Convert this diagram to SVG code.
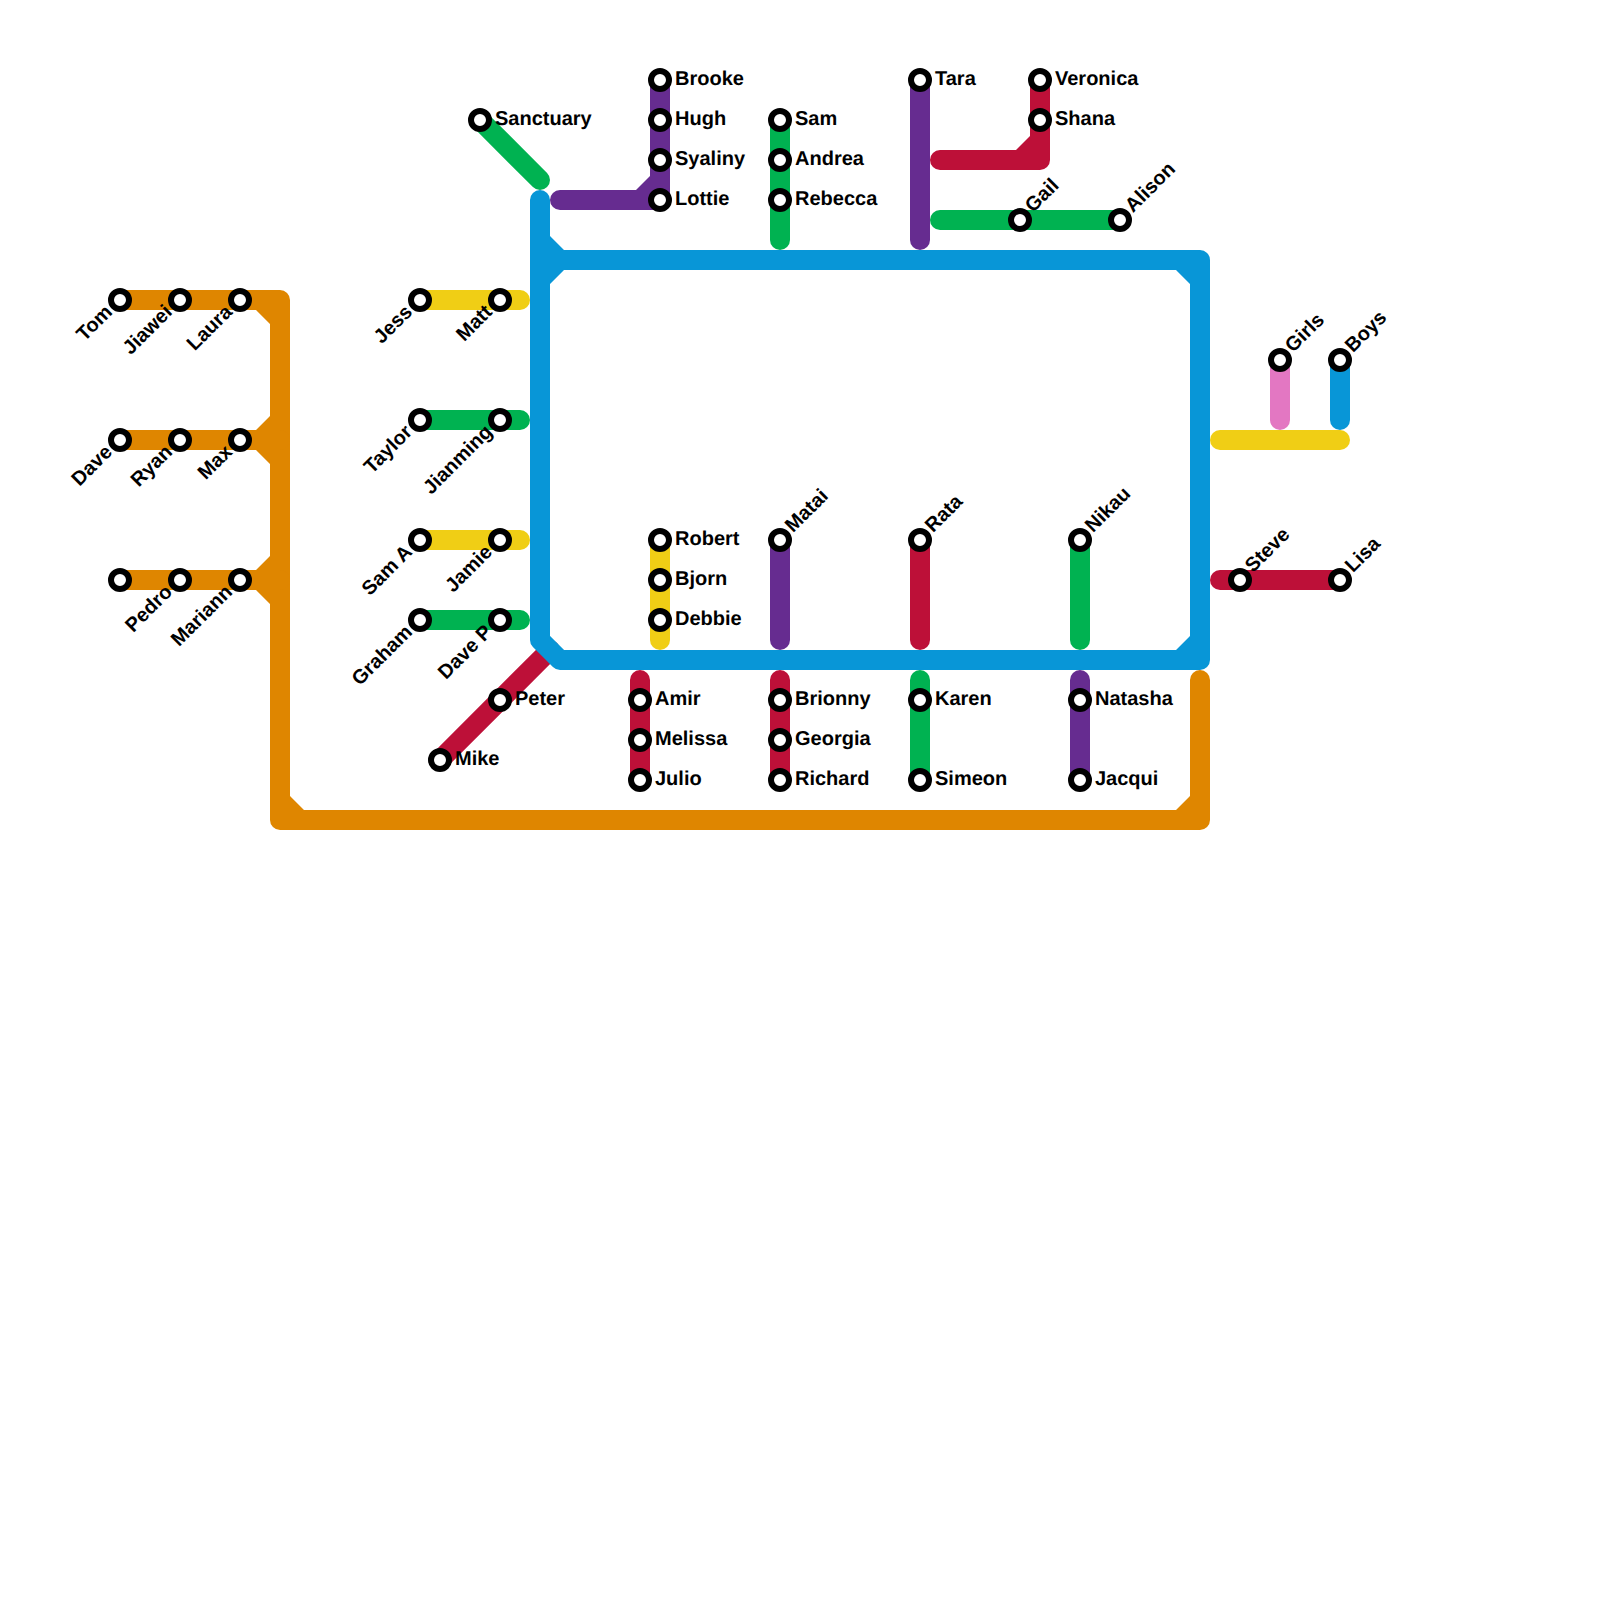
<svg xmlns="http://www.w3.org/2000/svg" width="1600" height="1600" viewBox="0 0 1600 1600">
<style>
.l{fill:none;stroke-width:20;stroke-linecap:round;stroke-linejoin:round}
.o{stroke:#df8600}.b{stroke:#0896d7}.g{stroke:#00b251}.y{stroke:#f0ce15}.p{stroke:#662c90}.r{stroke:#bd1038}.k{stroke:#e377c2}
.fo{fill:#df8600}.fb{fill:#0896d7}.fp{fill:#662c90}.fr{fill:#bd1038}
.s{fill:#fff;stroke:#000;stroke-width:6}
text{font-family:"Liberation Sans",Arial,sans-serif;font-weight:700;font-size:20px;fill:#000;text-rendering:geometricPrecision}
.e{text-anchor:end}
</style>
<g id="connectors">
<path class="l r" d="M440 760L550 650"/>
<path class="l o" d="M120 300H280V820H1200V680"/>
<path class="l o" d="M120 440H280M120 580H280"/>
<path class="fo" d="M256 310H270V324ZM256 430H270V416ZM256 450H270V464ZM256 570H270V556ZM256 590H270V604ZM290 796V810H304ZM1190 796V810H1176Z"/>
<path class="l b" d="M540 200V640L560 660H1200V260H540"/>
<path class="fb" d="M550 236L564 250H550ZM550 284L564 270H550ZM1176 270H1190V284ZM1190 636V650H1176Z"/>
<path class="l g" d="M480 120L540 180"/>
<path class="l p" d="M560 200H660V80"/>
<path class="fp" d="M636 190H650V176Z"/>
<path class="l g" d="M780 120V240"/>
<path class="l p" d="M920 80V240"/>
<path class="l r" d="M940 160H1040V80"/>
<path class="fr" d="M1016 150H1030V136Z"/>
<path class="l g" d="M940 220H1120"/>
<path class="l y" d="M420 300H520M420 540H520"/>
<path class="l g" d="M420 420H520M420 620H520"/>
<path class="l y" d="M660 540V640"/>
<path class="l p" d="M780 540V640"/>
<path class="l r" d="M920 540V640"/>
<path class="l g" d="M1080 540V640"/>
<path class="l r" d="M640 680V780M780 680V780"/>
<path class="l g" d="M920 680V780"/>
<path class="l p" d="M1080 680V780"/>
<path class="l r" d="M1220 580H1340"/>
<path class="l y" d="M1220 440H1340"/>
<path class="l k" d="M1280 360V420"/>
<path class="l b" d="M1340 360V420"/>
</g>
<g id="tom"><circle class="s" cx="120" cy="300" r="9"/><text class="e" transform="translate(120 300) rotate(-45)" x="-14" y="4.5">Tom</text></g>
<g id="jiawei"><circle class="s" cx="180" cy="300" r="9"/><text class="e" transform="translate(180 300) rotate(-45)" x="-14" y="4.5">Jiawei</text></g>
<g id="laura"><circle class="s" cx="240" cy="300" r="9"/><text class="e" transform="translate(240 300) rotate(-45)" x="-14" y="4.5">Laura</text></g>
<g id="dave"><circle class="s" cx="120" cy="440" r="9"/><text class="e" transform="translate(120 440) rotate(-45)" x="-14" y="4.5">Dave</text></g>
<g id="ryan"><circle class="s" cx="180" cy="440" r="9"/><text class="e" transform="translate(180 440) rotate(-45)" x="-14" y="4.5">Ryan</text></g>
<g id="max"><circle class="s" cx="240" cy="440" r="9"/><text class="e" transform="translate(240 440) rotate(-45)" x="-14" y="4.5">Max</text></g>
<g id="blank"><circle class="s" cx="120" cy="580" r="9"/></g>
<g id="pedro"><circle class="s" cx="180" cy="580" r="9"/><text class="e" transform="translate(180 580) rotate(-45)" x="-14" y="4.5">Pedro</text></g>
<g id="mariann"><circle class="s" cx="240" cy="580" r="9"/><text class="e" transform="translate(240 580) rotate(-45)" x="-14" y="4.5">Mariann</text></g>
<g id="jess"><circle class="s" cx="420" cy="300" r="9"/><text class="e" transform="translate(420 300) rotate(-45)" x="-14" y="4.5">Jess</text></g>
<g id="matt"><circle class="s" cx="500" cy="300" r="9"/><text class="e" transform="translate(500 300) rotate(-45)" x="-14" y="4.5">Matt</text></g>
<g id="taylor"><circle class="s" cx="420" cy="420" r="9"/><text class="e" transform="translate(420 420) rotate(-45)" x="-14" y="4.5">Taylor</text></g>
<g id="jianming"><circle class="s" cx="500" cy="420" r="9"/><text class="e" transform="translate(500 420) rotate(-45)" x="-14" y="4.5">Jianming</text></g>
<g id="sama"><circle class="s" cx="420" cy="540" r="9"/><text class="e" transform="translate(420 540) rotate(-45)" x="-14" y="4.5">Sam A</text></g>
<g id="jamie"><circle class="s" cx="500" cy="540" r="9"/><text class="e" transform="translate(500 540) rotate(-45)" x="-14" y="4.5">Jamie</text></g>
<g id="graham"><circle class="s" cx="420" cy="620" r="9"/><text class="e" transform="translate(420 620) rotate(-45)" x="-14" y="4.5">Graham</text></g>
<g id="davep"><circle class="s" cx="500" cy="620" r="9"/><text class="e" transform="translate(500 620) rotate(-45)" x="-14" y="4.5">Dave P</text></g>
<g id="sanctuary"><circle class="s" cx="480" cy="120" r="9"/><text x="495" y="125">Sanctuary</text></g>
<g id="brooke"><circle class="s" cx="660" cy="80" r="9"/><text x="675" y="85">Brooke</text></g>
<g id="hugh"><circle class="s" cx="660" cy="120" r="9"/><text x="675" y="125">Hugh</text></g>
<g id="syaliny"><circle class="s" cx="660" cy="160" r="9"/><text x="675" y="165">Syaliny</text></g>
<g id="lottie"><circle class="s" cx="660" cy="200" r="9"/><text x="675" y="205">Lottie</text></g>
<g id="sam"><circle class="s" cx="780" cy="120" r="9"/><text x="795" y="125">Sam</text></g>
<g id="andrea"><circle class="s" cx="780" cy="160" r="9"/><text x="795" y="165">Andrea</text></g>
<g id="rebecca"><circle class="s" cx="780" cy="200" r="9"/><text x="795" y="205">Rebecca</text></g>
<g id="tara"><circle class="s" cx="920" cy="80" r="9"/><text x="935" y="85">Tara</text></g>
<g id="veronica"><circle class="s" cx="1040" cy="80" r="9"/><text x="1055" y="85">Veronica</text></g>
<g id="shana"><circle class="s" cx="1040" cy="120" r="9"/><text x="1055" y="125">Shana</text></g>
<g id="gail"><circle class="s" cx="1020" cy="220" r="9"/><text transform="translate(1020 220) rotate(-45)" x="14" y="4.5">Gail</text></g>
<g id="alison"><circle class="s" cx="1120" cy="220" r="9"/><text transform="translate(1120 220) rotate(-45)" x="14" y="4.5">Alison</text></g>
<g id="girls"><circle class="s" cx="1280" cy="360" r="9"/><text transform="translate(1280 360) rotate(-45)" x="14" y="4.5">Girls</text></g>
<g id="boys"><circle class="s" cx="1340" cy="360" r="9"/><text transform="translate(1340 360) rotate(-45)" x="14" y="4.5">Boys</text></g>
<g id="robert"><circle class="s" cx="660" cy="540" r="9"/><text x="675" y="545">Robert</text></g>
<g id="bjorn"><circle class="s" cx="660" cy="580" r="9"/><text x="675" y="585">Bjorn</text></g>
<g id="debbie"><circle class="s" cx="660" cy="620" r="9"/><text x="675" y="625">Debbie</text></g>
<g id="matai"><circle class="s" cx="780" cy="540" r="9"/><text transform="translate(780 540) rotate(-45)" x="14" y="4.5">Matai</text></g>
<g id="rata"><circle class="s" cx="920" cy="540" r="9"/><text transform="translate(920 540) rotate(-45)" x="14" y="4.5">Rata</text></g>
<g id="nikau"><circle class="s" cx="1080" cy="540" r="9"/><text transform="translate(1080 540) rotate(-45)" x="14" y="4.5">Nikau</text></g>
<g id="steve"><circle class="s" cx="1240" cy="580" r="9"/><text transform="translate(1240 580) rotate(-45)" x="14" y="4.5">Steve</text></g>
<g id="lisa"><circle class="s" cx="1340" cy="580" r="9"/><text transform="translate(1340 580) rotate(-45)" x="14" y="4.5">Lisa</text></g>
<g id="peter"><circle class="s" cx="500" cy="700" r="9"/><text x="515" y="705">Peter</text></g>
<g id="mike"><circle class="s" cx="440" cy="760" r="9"/><text x="455" y="765">Mike</text></g>
<g id="amir"><circle class="s" cx="640" cy="700" r="9"/><text x="655" y="705">Amir</text></g>
<g id="melissa"><circle class="s" cx="640" cy="740" r="9"/><text x="655" y="745">Melissa</text></g>
<g id="julio"><circle class="s" cx="640" cy="780" r="9"/><text x="655" y="785">Julio</text></g>
<g id="brionny"><circle class="s" cx="780" cy="700" r="9"/><text x="795" y="705">Brionny</text></g>
<g id="georgia"><circle class="s" cx="780" cy="740" r="9"/><text x="795" y="745">Georgia</text></g>
<g id="richard"><circle class="s" cx="780" cy="780" r="9"/><text x="795" y="785">Richard</text></g>
<g id="karen"><circle class="s" cx="920" cy="700" r="9"/><text x="935" y="705">Karen</text></g>
<g id="simeon"><circle class="s" cx="920" cy="780" r="9"/><text x="935" y="785">Simeon</text></g>
<g id="natasha"><circle class="s" cx="1080" cy="700" r="9"/><text x="1095" y="705">Natasha</text></g>
<g id="jacqui"><circle class="s" cx="1080" cy="780" r="9"/><text x="1095" y="785">Jacqui</text></g>
</svg>
